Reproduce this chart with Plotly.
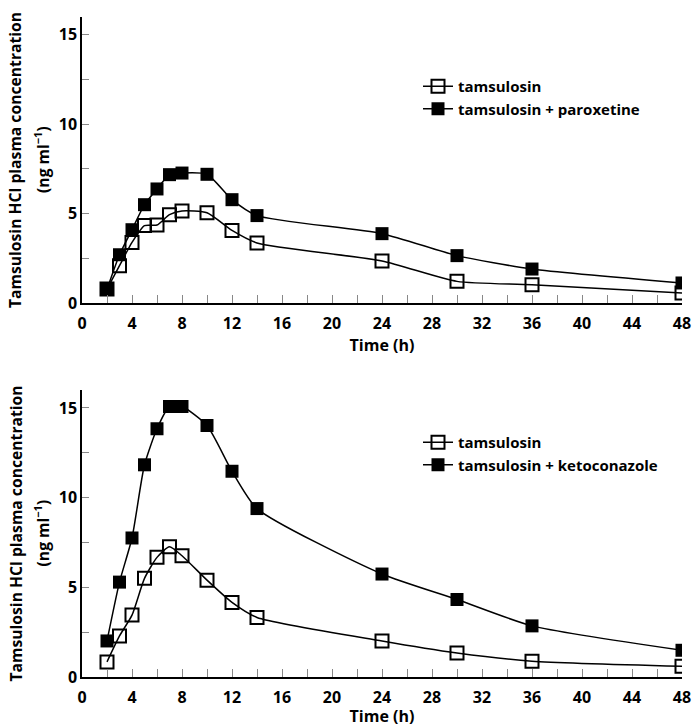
import plotly.graph_objects as go

time_h = [2, 3, 4, 5, 6, 7, 8, 10, 12, 14, 24, 30, 36, 48]

# Top panel
top_tamsulosin = [0.78, 2.09, 3.39, 4.33, 4.36, 4.94, 5.15, 5.05, 4.06, 3.36, 2.35, 1.21, 1.02, 0.56]
top_paroxetine = [0.76, 2.70, 4.10, 5.50, 6.38, 7.18, 7.27, 7.20, 5.78, 4.89, 3.88, 2.65, 1.90, 1.12]

# Bottom panel
bot_tamsulosin = [0.84, 2.29, 3.45, 5.50, 6.67, 7.26, 6.76, 5.40, 4.16, 3.32, 2.01, 1.34, 0.88, 0.60]
bot_ketoconazole = [2.01, 5.29, 7.75, 11.83, 13.84, 15.08, 15.08, 14.02, 11.47, 9.39, 5.74, 4.32, 2.85, 1.49]

x_ticks = [0, 4, 8, 12, 16, 20, 24, 28, 32, 36, 40, 44, 48]
y_ticks = [0, 5, 10, 15]

FONT = "Open Sans"
W, H = 693, 727
MR = 8
PW = W - MR              # plot-area width in px

def sx(px):              # screen x -> paper x
    return px / PW

def sy(py):              # screen y -> paper y
    return (H - py) / H

fig = go.Figure()

def add_pair(open_vals, filled_vals, open_name, filled_name, xa, ya, leg):
    fig.add_trace(go.Scatter(
        x=time_h, y=open_vals, name=open_name, mode="lines+markers",
        line=dict(color="black", width=1.5, shape="spline", smoothing=0.6),
        marker=dict(symbol="square-open", size=13, color="black", line=dict(width=2, color="black")),
        xaxis=xa, yaxis=ya, legend=leg))
    fig.add_trace(go.Scatter(
        x=time_h, y=filled_vals, name=filled_name, mode="lines+markers",
        line=dict(color="black", width=1.5, shape="spline", smoothing=0.6),
        marker=dict(symbol="square", size=13, color="black"),
        xaxis=xa, yaxis=ya, legend=leg))

add_pair(top_tamsulosin, top_paroxetine, "tamsulosin", "tamsulosin + paroxetine", "x", "y", "legend")
add_pair(bot_tamsulosin, bot_ketoconazole, "tamsulosin", "tamsulosin + ketoconazole", "x2", "y2", "legend2")

xdom = [sx(82), sx(682)]
top_dom = [sy(303), sy(17)]
bot_dom = [sy(677), sy(390)]

tickfont = dict(family=FONT, size=16, color="black", weight="bold")

xaxis_common = dict(
    range=[0, 48], tickvals=x_ticks, ticks="inside", ticklen=8, tickcolor="#888",
    tickwidth=1.2, showline=True, linecolor="black", linewidth=1.5, showgrid=False,
    zeroline=False, tickfont=tickfont, automargin=False, ticklabelstandoff=5,
    minor=dict(dtick=2, tick0=0, ticks="inside", ticklen=8, tickcolor="#888", tickwidth=1.2),
    title=dict(text="Time (h)", font=dict(family=FONT, size=16, color="black", weight="bold"), standoff=4),
)
yaxis_common = dict(
    range=[0, 16], tickvals=y_ticks, ticks="inside", ticklen=7, tickcolor="#888",
    tickwidth=1.2, showline=True, linecolor="black", linewidth=1.5, showgrid=False,
    zeroline=False, tickfont=tickfont, automargin=False,
    minor=dict(dtick=2.5, tick0=0, ticks="inside", ticklen=7, tickcolor="#888", tickwidth=1.2),
)

legend_font = dict(family=FONT, size=15, color="black", weight="bold")
fig.update_layout(
    width=W, height=H, margin=dict(l=0, r=MR, t=0, b=0, autoexpand=False),
    plot_bgcolor="white", paper_bgcolor="white",
    xaxis=dict(domain=xdom, anchor="y", **xaxis_common),
    yaxis=dict(domain=top_dom, anchor="x", **yaxis_common),
    xaxis2=dict(domain=xdom, anchor="y2", **xaxis_common),
    yaxis2=dict(domain=bot_dom, anchor="x2", **yaxis_common),
    legend=dict(x=sx(418), y=sy(70), xanchor="left", yanchor="top",
                bgcolor="rgba(0,0,0,0)", font=legend_font, tracegroupgap=0, itemwidth=30),
    legend2=dict(x=sx(418), y=sy(426), xanchor="left", yanchor="top",
                 bgcolor="rgba(0,0,0,0)", font=legend_font, tracegroupgap=0, itemwidth=30),
    showlegend=True,
)

title_font = dict(family=FONT, size=15.7, color="black", weight="bold")
for dom in (top_dom, bot_dom):
    yc = (dom[0] + dom[1]) / 2
    fig.add_annotation(text="Tamsulosin HCl plasma concentration", xref="paper", yref="paper",
                       x=sx(15), y=yc, textangle=-90, showarrow=False, font=title_font,
                       xanchor="center", yanchor="middle")
    fig.add_annotation(text="(ng ml<sup>−1</sup>)", xref="paper", yref="paper",
                       x=sx(42), y=yc, textangle=-90, showarrow=False, font=title_font,
                       xanchor="center", yanchor="middle")

fig.write_html("out.html", config={"displayModeBar": False},
               post_script="document.body.style.margin='0';document.body.style.overflow='hidden';")
